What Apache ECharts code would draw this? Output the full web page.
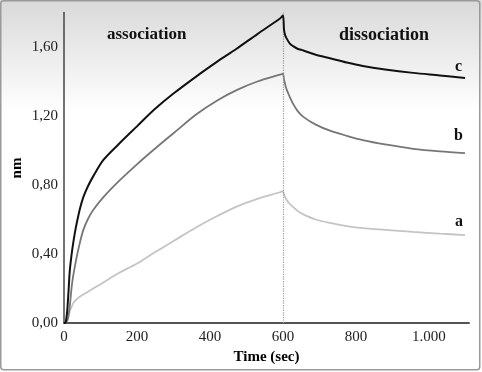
<!DOCTYPE html>
<html>
<head>
<meta charset="utf-8">
<script src="https://cdn.jsdelivr.net/npm/echarts@6/dist/echarts.min.js"></script>
<style>
html,body{margin:0;padding:0;background:#fff;}
#chart{width:482px;height:372px;}
</style>
</head>
<body>
<div id="chart"></div>
<script>
// Time points (sec)
var time = [0, 4, 6, 9, 12, 16, 21, 25, 30, 35, 44, 53, 65, 80, 108, 149, 200, 249, 300, 363, 420, 473, 530, 592, 600, 603, 606, 610, 619, 628, 640, 656, 690, 729, 775, 819, 880, 957, 1030, 1099];
// Series values (nm)
var seriesC = [0, 0, 0.02, 0.075, 0.17, 0.307, 0.40, 0.46, 0.525, 0.58, 0.665, 0.73, 0.79, 0.85, 0.945, 1.035, 1.14, 1.24, 1.33, 1.43, 1.515, 1.59, 1.675, 1.765, 1.782, 1.70, 1.67, 1.65, 1.62, 1.605, 1.59, 1.58, 1.555, 1.535, 1.51, 1.49, 1.47, 1.45, 1.435, 1.42];
var seriesB = [0, 0, 0.005, 0.015, 0.037, 0.10, 0.21, 0.27, 0.33, 0.385, 0.47, 0.54, 0.60, 0.655, 0.73, 0.82, 0.92, 1.01, 1.10, 1.21, 1.29, 1.35, 1.40, 1.44, 1.445, 1.41, 1.385, 1.355, 1.31, 1.27, 1.23, 1.195, 1.15, 1.115, 1.085, 1.06, 1.035, 1.01, 0.995, 0.985];
var seriesA = [0, 0, 0.005, 0.015, 0.037, 0.07, 0.095, 0.114, 0.128, 0.138, 0.153, 0.165, 0.18, 0.20, 0.235, 0.288, 0.345, 0.41, 0.475, 0.555, 0.62, 0.675, 0.72, 0.758, 0.765, 0.745, 0.73, 0.715, 0.69, 0.672, 0.65, 0.63, 0.60, 0.58, 0.562, 0.55, 0.54, 0.528, 0.518, 0.51];
var seriesNames = ['a', 'b', 'c'];
var phaseLabels = ['association', 'dissociation'];
var xTicks = [0, 200, 400, 600, 800, 1000];
var yTicks = [0, 0.4, 0.8, 1.2, 1.6];
var switchTime = 600;
var yAxisTitle = 'nm';

function pairs(vals){ return time.map(function(t,i){ return [t, vals[i]]; }); }

var serif = '"Liberation Serif","DejaVu Serif",serif';
var chart = echarts.init(document.getElementById('chart'));
chart.setOption({
  animation: false,
  backgroundColor: {
    type: 'linear', x: 0, y: 0, x2: 0, y2: 1,
    colorStops: [{offset: 0, color: '#d9d9d9'}, {offset: 0.3, color: '#ffffff'}, {offset: 1, color: '#ffffff'}]
  },
  grid: {left: 64, right: 13, top: 12.5, bottom: 49, containLabel: false, outerBoundsMode: 'none'},
  xAxis: {
    type: 'value', min: 0, max: 1110, interval: 200,
    name: 'Time (sec)', nameLocation: 'middle', nameGap: 27,
    nameTextStyle: {fontFamily: serif, fontWeight: 'bold', fontSize: 15, color: '#000'},
    axisLine: {show: true, lineStyle: {color: '#555', width: 2}},
    axisTick: {show: false},
    splitLine: {show: false},
    axisLabel: {
      fontFamily: serif, fontSize: 15, color: '#222', margin: 7,
      showMaxLabel: false,
      formatter: function(v){ return xTicks.indexOf(v) < 0 ? '' : (v >= 1000 ? (v/1000).toFixed(3) : String(v)); }
    }
  },
  yAxis: {
    type: 'value', min: 0, max: 1.8, interval: 0.4,
    axisLine: {show: true, lineStyle: {color: '#444', width: 1.5}},
    axisTick: {show: false},
    splitLine: {show: false},
    axisLabel: {
      fontFamily: serif, fontSize: 15, color: '#222', margin: 6,
      showMaxLabel: false,
      formatter: function(v){
        var ok = yTicks.some(function(t){ return Math.abs(t - v) < 1e-6; });
        return ok ? v.toFixed(2).replace('.', ',') : '';
      }
    }
  },
  series: [
    {name: seriesNames[0], type: 'line', data: pairs(seriesA), showSymbol: false, smooth: 0.3, lineStyle: {color: '#c4c4c4', width: 1.8},
     markLine: {silent: true, symbol: 'none', label: {show: false}, lineStyle: {color: '#9a9a9a', type: 'dotted', width: 1.2}, data: [{xAxis: switchTime}]}, z: 3},
    {name: seriesNames[1], type: 'line', data: pairs(seriesB), showSymbol: false, smooth: 0.3, lineStyle: {color: '#767676', width: 1.8}, z: 4},
    {name: seriesNames[2], type: 'line', data: pairs(seriesC), showSymbol: false, smooth: 0.3, lineStyle: {color: '#111111', width: 2}, z: 5}
  ],
  graphic: [
    {type: 'rect', shape: {x: 0.75, y: 0.75, width: 479, height: 369, r: 3}, style: {fill: 'none', stroke: '#9a9a9a', lineWidth: 1.5}, silent: true, z: 100},
    {type: 'text', x: 17, y: 168, rotation: Math.PI / 2, style: {text: yAxisTitle, font: 'bold 15px ' + serif, fill: '#000', align: 'center', verticalAlign: 'middle'}},
    {type: 'text', left: 107, top: 26, style: {text: phaseLabels[0], font: 'bold 17px ' + serif, fill: '#111'}},
    {type: 'text', left: 339, top: 26, style: {text: phaseLabels[1], font: 'bold 18px ' + serif, fill: '#111'}},
    {type: 'text', left: 455, top: 59, style: {text: seriesNames[2], font: 'bold 16px ' + serif, fill: '#111'}},
    {type: 'text', left: 454, top: 128, style: {text: seriesNames[1], font: 'bold 16px ' + serif, fill: '#111'}},
    {type: 'text', left: 455, top: 214, style: {text: seriesNames[0], font: 'bold 16px ' + serif, fill: '#111'}}
  ]
});
</script>
</body>
</html>
